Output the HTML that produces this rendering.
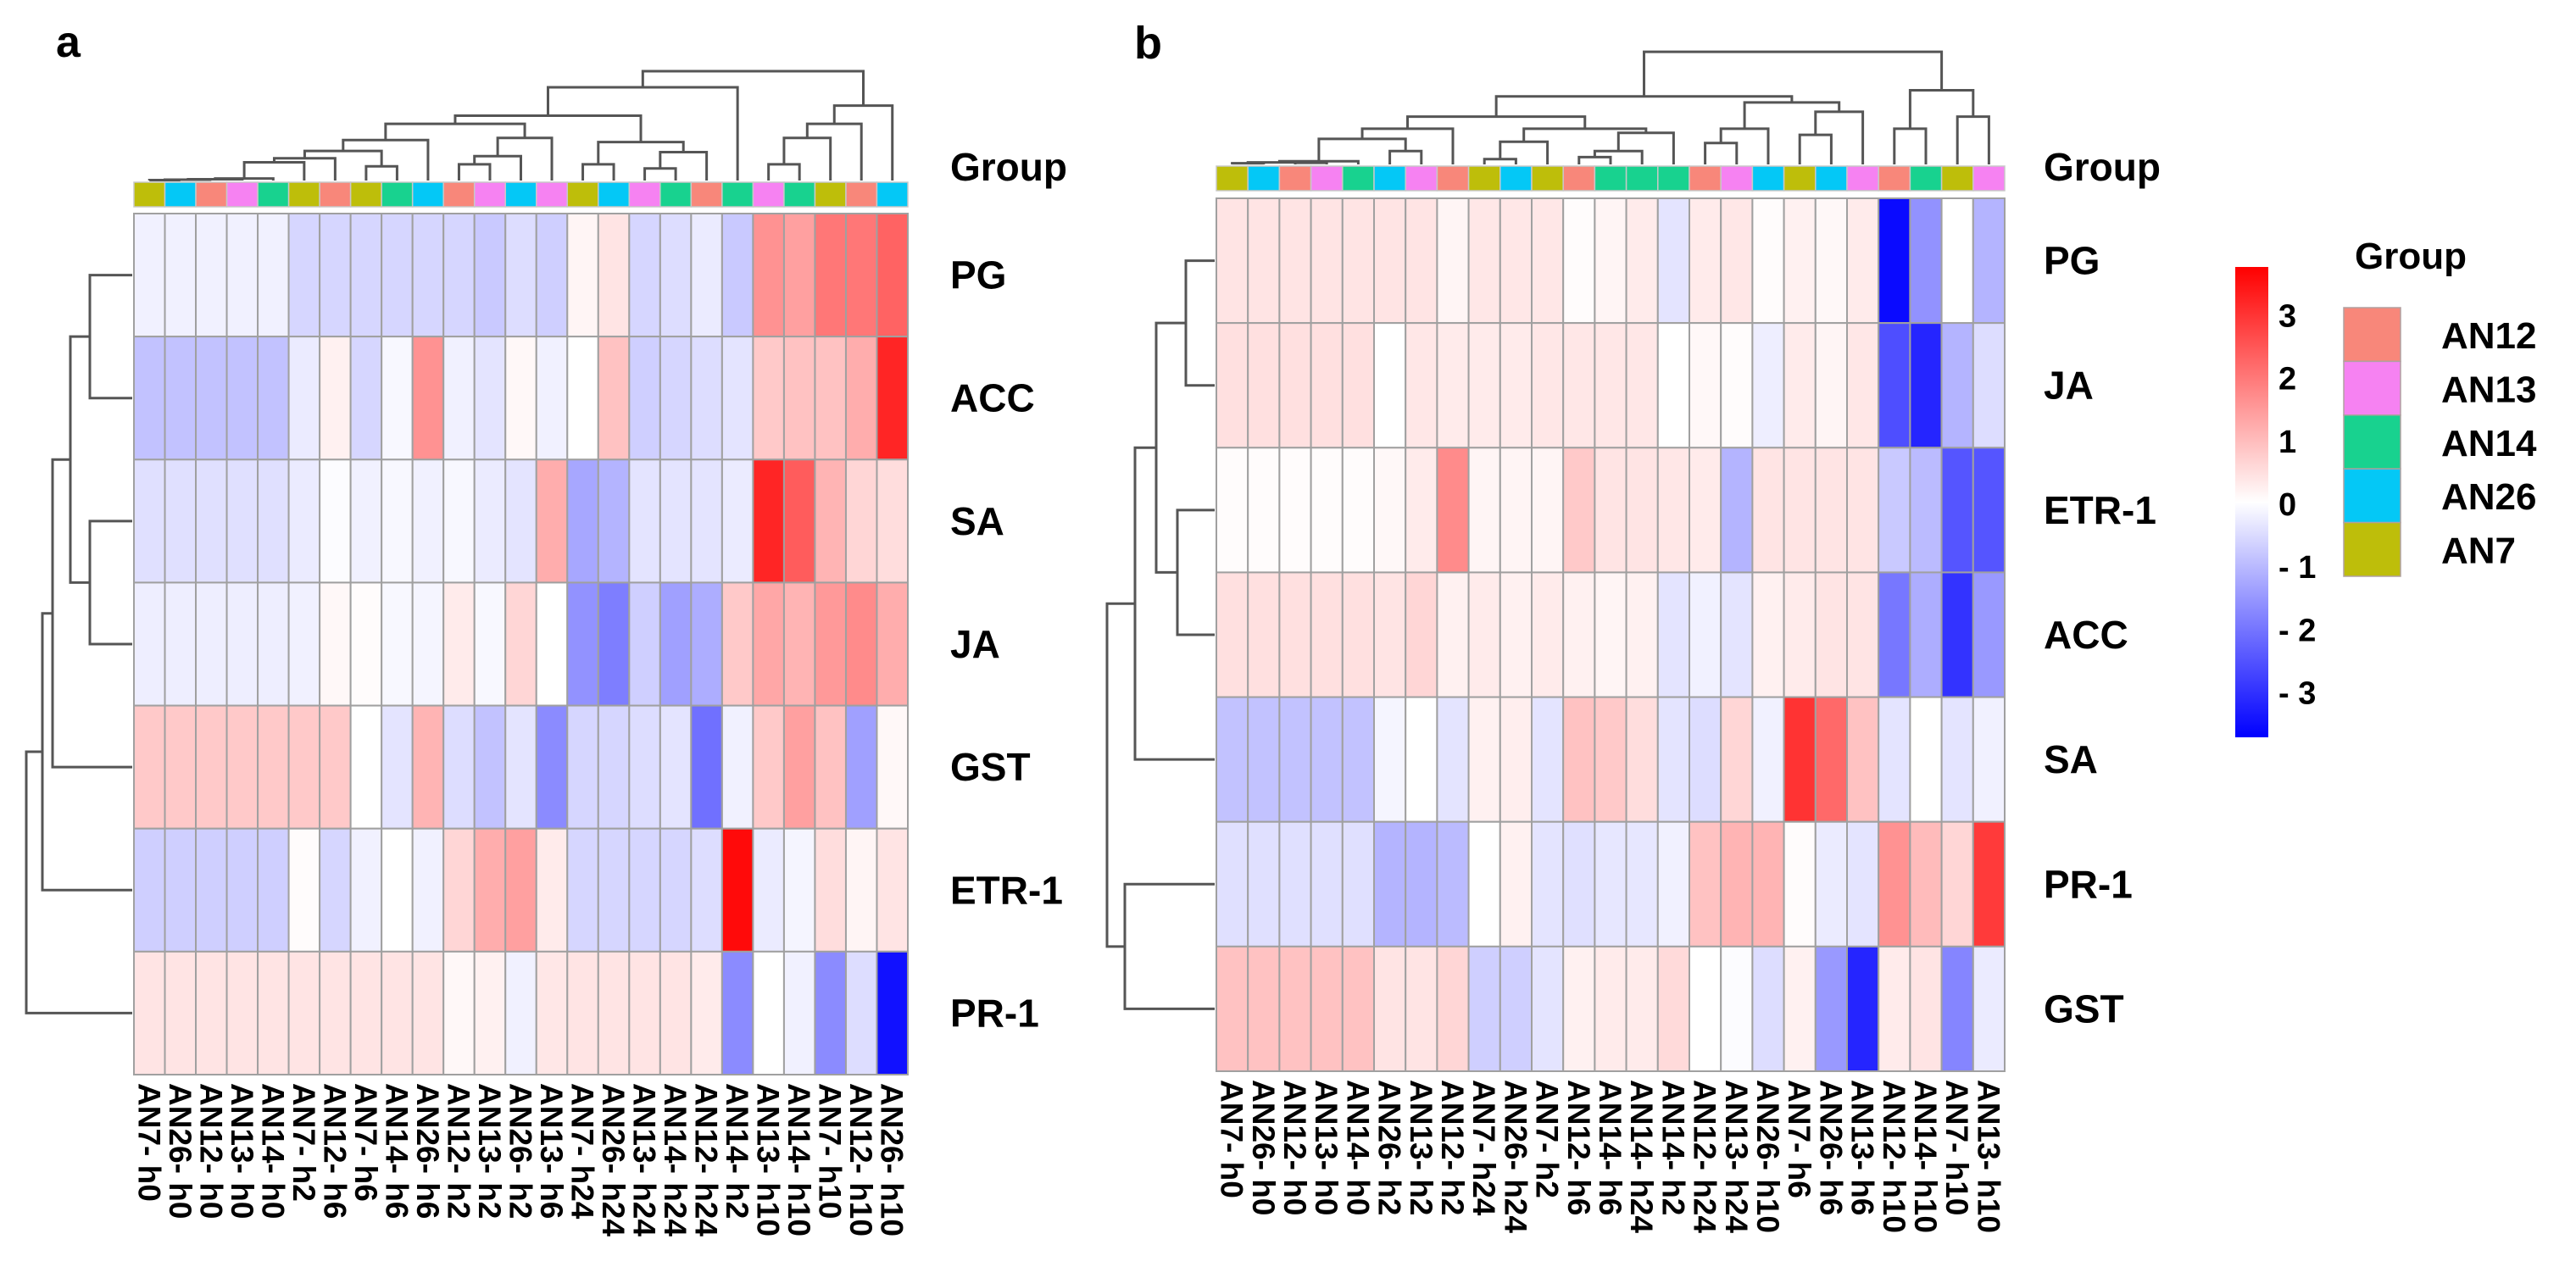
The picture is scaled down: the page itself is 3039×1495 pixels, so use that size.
<!DOCTYPE html>
<html><head><meta charset="utf-8"><style>
html,body{margin:0;padding:0;background:#fff}
svg{display:block}
text{font-family:"Liberation Sans",Arial,sans-serif;font-weight:bold;fill:#000}
</style></head>
<body>
<svg id="fig" width="3039" height="1495" viewBox="0 0 3039 1495" xmlns="http://www.w3.org/2000/svg">
<defs>
<linearGradient id="cbar" x1="0" y1="0" x2="0" y2="1">
<stop offset="0" stop-color="#ff0000"/><stop offset="0.5" stop-color="#ffffff"/><stop offset="1" stop-color="#0000ff"/>
</linearGradient>
</defs>
<rect x="0" y="0" width="3039" height="1495" fill="#fff"/>
<text x="66" y="67" font-size="52">a</text>
<text x="1338" y="69" font-size="54">b</text>
<g id="pa"></g>
<g id="pb"></g>
<g id="legend">
<rect x="2637" y="315" width="39" height="555" fill="url(#cbar)"/>
<text x="2778" y="317" font-size="44">Group</text>
</g>
</svg>
<script>
const NS="http://www.w3.org/2000/svg";
// ---------- data ----------
const groupColors={AN12:"#F8877A",AN13:"#F682F2",AN14:"#18D28F",AN26:"#04C8F6",AN7:"#BEBE0A"};
const groupNames=["AN12","AN13","AN14","AN26","AN7"];
const colorTicks=[3,2,1,0,-1,-2,-3];
const colorMax=3.75;

const colsA=["AN7- h0","AN26- h0","AN12- h0","AN13- h0","AN14- h0","AN7- h2","AN12- h6","AN7- h6","AN14- h6","AN26- h6","AN12- h2","AN13- h2","AN26- h2","AN13- h6","AN7- h24","AN26- h24","AN13- h24","AN14- h24","AN12- h24","AN14- h2","AN13- h10","AN14- h10","AN7- h10","AN12- h10","AN26- h10"];
const rowsA=["PG","ACC","SA","JA","GST","ETR-1","PR-1"];
const valsA_PG=[-0.2,-0.2,-0.2,-0.2,-0.2,-0.6,-0.6,-0.6,-0.6,-0.6,-0.6,-0.8,-0.5,-0.7,0.15,0.4,-0.6,-0.5,-0.3,-0.8,1.6,1.4,2.0,2.0,2.3];
const valsA_ACC=[-0.9,-0.9,-0.9,-0.9,-0.9,-0.3,0.2,-0.6,-0.1,1.6,-0.2,-0.4,0.1,-0.2,0.0,0.9,-0.7,-0.6,-0.5,-0.4,0.8,0.9,0.9,1.2,3.2];
const valsA_SA=[-0.45,-0.45,-0.45,-0.45,-0.45,-0.3,-0.05,-0.2,-0.1,-0.2,-0.1,-0.3,-0.4,1.2,-1.3,-1.1,-0.4,-0.4,-0.4,-0.3,3.2,2.4,1.1,0.6,0.5];
const valsA_JA=[-0.25,-0.25,-0.25,-0.25,-0.25,-0.2,0.1,0.05,-0.1,-0.15,0.3,-0.1,0.6,0.0,-1.6,-1.9,-0.7,-1.4,-1.2,0.8,1.3,1.1,1.5,1.7,1.2];
const valsA_GST=[0.8,0.8,0.8,0.8,0.8,0.8,0.8,0.0,-0.4,1.1,-0.5,-0.9,-0.4,-1.7,-0.6,-0.6,-0.5,-0.4,-2.1,-0.2,0.8,1.4,0.9,-1.4,0.1];
const valsA_ETR=[-0.7,-0.7,-0.7,-0.7,-0.7,0.05,-0.6,-0.2,0.0,-0.2,0.6,1.2,1.4,0.3,-0.6,-0.6,-0.6,-0.6,-0.5,3.6,-0.3,-0.15,0.5,0.15,0.4];
const valsA_PR=[0.4,0.4,0.4,0.4,0.4,0.4,0.4,0.4,0.4,0.4,0.1,0.2,-0.2,0.35,0.4,0.4,0.4,0.4,0.3,-1.7,0.0,-0.2,-1.7,-0.5,-3.5];
const colMergesA=[[0,1,0.5],[-1,2,1],[-2,3,1.5],[-3,4,2.4],[-4,5,21.5],[-5,6,26.3],[7,8,16.7],[-6,-7,34.9],[-8,9,47.8],[10,11,19.1],[-10,12,28.7],[-11,13,50.2],[-9,-12,66.9],[14,15,19.1],[16,17,14.3],[-15,18,33.5],[-14,-16,45.4],[-13,-17,76.5],[-18,19,110],[20,21,19.1],[-20,22,50.2],[-21,23,66.9],[-22,24,88.4],[-19,-23,129]];
const rowMergesA=[[0,1,50],[2,3,50],[-1,-2,73],[-3,4,94],[-4,5,106],[-5,6,125]];

const colsB=["AN7- h0","AN26- h0","AN12- h0","AN13- h0","AN14- h0","AN26- h2","AN13- h2","AN12- h2","AN7- h24","AN26- h24","AN7- h2","AN12- h6","AN14- h6","AN14- h24","AN14- h2","AN12- h24","AN13- h24","AN26- h10","AN7- h6","AN26- h6","AN13- h6","AN12- h10","AN14- h10","AN7- h10","AN13- h10"];
const rowsB=["PG","JA","ETR-1","ACC","SA","PR-1","GST"];
const valsB_PG=[0.4,0.4,0.4,0.4,0.4,0.4,0.4,0.15,0.35,0.35,0.35,0.05,0.15,0.3,-0.4,0.3,0.35,0.05,0.2,0.1,0.3,-3.6,-1.6,0.0,-1.1];
const valsB_JA=[0.45,0.45,0.45,0.45,0.45,0.0,0.35,0.3,0.3,0.3,0.35,0.35,0.35,0.35,0.0,0.1,0.05,-0.25,0.3,0.15,0.35,-2.6,-3.2,-1.1,-0.5];
const valsB_ETR=[0.05,0.05,0.05,0.05,0.05,0.1,0.3,1.7,0.15,0.15,0.15,0.8,0.4,0.4,0.35,0.3,-1.1,0.4,0.4,0.4,0.4,-0.8,-1.0,-2.5,-2.5];
const valsB_ACC=[0.45,0.45,0.45,0.45,0.45,0.4,0.6,0.2,0.3,0.2,0.3,0.2,0.15,0.2,-0.4,-0.2,-0.4,0.2,0.3,0.4,0.4,-2.0,-1.2,-3.0,-1.5];
const valsB_SA=[-0.9,-0.9,-0.9,-0.9,-0.9,-0.15,0.0,-0.4,0.2,0.25,-0.4,0.9,0.8,0.5,-0.4,-0.5,0.6,-0.2,3.0,2.2,0.9,-0.4,0.0,-0.4,-0.2];
const valsB_PR=[-0.45,-0.45,-0.45,-0.45,-0.45,-1.1,-1.1,-1.0,0.0,0.2,-0.4,-0.45,-0.35,-0.35,-0.2,0.9,1.1,1.1,0.05,-0.3,-0.4,1.6,1.0,0.6,2.9];
const valsB_GST=[0.9,0.9,0.9,0.9,0.9,0.4,0.4,0.6,-0.7,-0.7,-0.4,0.2,0.3,0.3,0.55,0.0,-0.05,-0.5,0.2,-1.5,-3.2,0.3,0.4,-1.8,-0.3];
const colMergesB=[[0,1,1.4],[2,3,1.9],[-1,-2,2.4],[-3,4,3.8],[5,6,15.8],[-4,-5,30.1],[-6,7,42.1],[8,9,6.2],[-8,10,26.8],[11,12,8.6],[-10,13,15.8],[-11,14,37.3],[-9,-12,42.1],[-7,-13,56.4],[15,16,25.3],[-15,17,42.1],[18,19,34.9],[-17,20,62.1],[-16,-18,73.1],[-14,-19,80.3],[21,22,42.1],[23,24,56.4],[-21,-22,87.5],[-20,-23,132.9]];
const rowMergesB=[[0,1,34],[2,3,44],[-1,-2,69],[-3,4,94],[5,6,106],[-4,-5,127]];

// ---------- helpers ----------
function colorOf(v){
  let t=Math.min(1,Math.abs(v)/colorMax);
  let c=Math.round(255*(1-t));
  return v>=0?`rgb(255,${c},${c})`:`rgb(${c},${c},255)`;
}
function mk(tag,attrs,parent){
  const e=document.createElementNS(NS,tag);
  for(const k in attrs)e.setAttribute(k,attrs[k]);
  parent.appendChild(e);return e;
}
function groupOf(lbl){return lbl.split("-")[0];}

function drawDendro(g,merges,leafPos,base,scale,orient,name){
  const pos=[],hgt=[];
  function get(id){return id>=0?[leafPos(id),0]:[pos[-id-1],hgt[-id-1]];}
  merges.forEach((m,i)=>{
    const [p1,h1]=get(m[0]),[p2,h2]=get(m[1]),h=m[2];
    let d;
    if(orient==="top"){
      const y=base-h*scale;
      d=`M${p1},${base-h1*scale}V${y}H${p2}V${base-h2*scale}`;
    }else{
      const x=base-h*scale;
      d=`M${base-h1*scale},${p1}H${x}V${p2}H${base-h2*scale}`;
    }
    const path=mk("path",{d:d,fill:"none",stroke:"#555",
      "stroke-width":"3"},g);
    
    
    pos[i]=(p1+p2)/2;hgt[i]=h;
  });
}

function drawPanel(gid,cfg){
  const g=document.getElementById(gid);
  const cw=(cfg.x1-cfg.x0)/cfg.cols.length, rh=(cfg.y1-cfg.y0)/cfg.rows.length;
  const xs=i=>cfg.x0+i*cw, ys=j=>cfg.y0+j*rh;
  // annotation bar
  cfg.cols.forEach((c,i)=>{
    const r=mk("rect",{x:xs(i),y:cfg.ay0,width:cw,height:cfg.ay1-cfg.ay0,fill:groupColors[groupOf(c)],stroke:"#c8c8c8","stroke-width":"1.5"},g);
    
    
  });
  // cells
  cfg.vals.forEach((row,j)=>{
    row.forEach((v,i)=>{
      const r=mk("rect",{x:xs(i),y:ys(j),width:cw,height:rh,fill:colorOf(v),stroke:"#a0a0a0","stroke-width":"2"},g);
      
      
    });
  });
  // row labels
  cfg.rows.forEach((rname,j)=>{
    const t=mk("text",{x:cfg.labelX,y:ys(j)+rh/2+16,"font-size":"46"},g);
    t.textContent=rname;
    
    
  });
  // column labels
  cfg.cols.forEach((c,i)=>{
    const cx=xs(i)+cw/2, y=cfg.y1+10;
    const t=mk("text",{x:0,y:0,"font-size":"37",transform:`translate(${cx-13},${y}) rotate(90)`},g);
    t.textContent=c;
    
    
  });
  const gt=mk("text",{x:cfg.labelX,y:213,"font-size":"46"},g);
  gt.textContent="Group";
  
  
  drawDendro(g,cfg.colMerges,i=>xs(i)+cw/2,cfg.colLeafY,1,"top","column-dendrogram");
  drawDendro(g,cfg.rowMerges,j=>ys(j)+rh/2,cfg.rowLeafX,1,"left","row-dendrogram");
}

drawPanel("pa",{cols:colsA,rows:rowsA,vals:[valsA_PG,valsA_ACC,valsA_SA,valsA_JA,valsA_GST,valsA_ETR,valsA_PR],
  x0:158,x1:1071,y0:252,y1:1268,ay0:215,ay1:244,labelX:1121,colMerges:colMergesA,rowMerges:rowMergesA,colLeafY:213,rowLeafX:156});
drawPanel("pb",{cols:colsB,rows:rowsB,vals:[valsB_PG,valsB_JA,valsB_ETR,valsB_ACC,valsB_SA,valsB_PR,valsB_GST],
  x0:1435,x1:2365,y0:234,y1:1264,ay0:196,ay1:225,labelX:2411,colMerges:colMergesB,rowMerges:rowMergesB,colLeafY:194,rowLeafX:1433});

// legend
const lg=document.getElementById("legend");
colorTicks.forEach(v=>{
  const t=mk("text",{x:2688,y:594-v*74.2+14,"font-size":"38"},lg);
  t.textContent=v<0?"- "+Math.abs(v):String(v);
  
  
});
groupNames.forEach((n,i)=>{
  const y=363+i*63.4;
  const r=mk("rect",{x:2765,y:y,width:67,height:63.4,fill:groupColors[n],stroke:"#b0a0a0","stroke-width":"1.5"},lg);
  
  
  const t=mk("text",{x:2880,y:y+48,"font-size":"44"},lg);
  t.textContent=n;
  
  
});
</script>
</body></html>
